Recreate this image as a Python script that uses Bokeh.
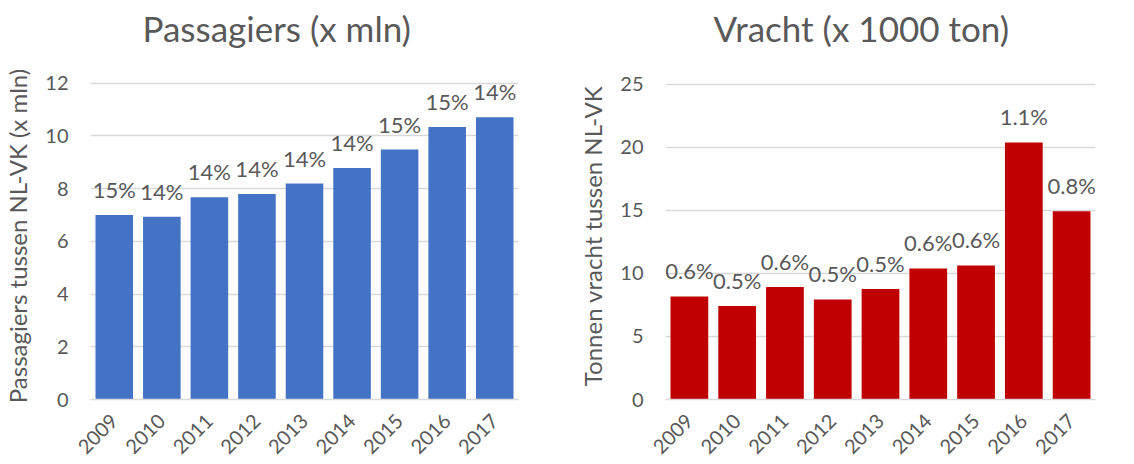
import math
from bokeh.plotting import figure
from bokeh.layouts import row
from bokeh.models import Range1d, FixedTicker, ColumnDataSource, Title
from bokeh.core.properties import value
from bokeh.embed import file_html
from bokeh.resources import INLINE

years = ["2009", "2010", "2011", "2012", "2013", "2014", "2015", "2016", "2017"]
passengers = [7.0, 6.93, 7.67, 7.79, 8.19, 8.78, 9.48, 10.33, 10.70]
passenger_pct = ["15%", "14%", "14%", "14%", "14%", "14%", "15%", "15%", "14%"]
freight = [8.17, 7.42, 8.93, 7.93, 8.77, 10.39, 10.63, 20.38, 14.93]
freight_pct = ["0.6%", "0.5%", "0.6%", "0.5%", "0.5%", "0.6%", "0.6%", "1.1%", "0.8%"]

FONT = "Lato"
TXT = "#595959"
GRID = "#D9D9D9"


def make(title, ylabel, vals, labels, color, yend, ticks, width, bl, br, offset):
    src = ColumnDataSource(dict(x=years, top=vals, lab=labels))
    p = figure(x_range=years, y_range=Range1d(0, yend), width=width, height=464,
               output_backend="svg", toolbar_location=None, title=None,
               min_border_left=bl, min_border_right=br, min_border_top=72,
               min_border_bottom=65, outline_line_color=None)
    p.vbar(x="x", top="top", width=0.79, source=src, fill_color=color,
           line_color=None)
    p.text(x="x", y="top", text="lab", source=src, text_align="center",
           text_baseline="bottom", y_offset=-12, text_color=TXT,
           text_font=value(FONT), text_font_size="22px")
    # spacer between frame and title, then the title itself
    p.add_layout(Title(text=" ", text_font_size="2px", standoff=18), "above")
    p.add_layout(Title(text=title, align="left", offset=offset, standoff=4,
                       text_font=FONT, text_font_size="35px",
                       text_font_style="normal", text_color=TXT), "above")
    p.xgrid.grid_line_color = None
    p.ygrid.grid_line_color = GRID
    p.ygrid.grid_line_width = 1.5
    p.yaxis.ticker = FixedTicker(ticks=ticks)
    p.yaxis.axis_line_color = None
    p.yaxis.major_tick_line_color = None
    p.yaxis.minor_tick_line_color = None
    p.yaxis.major_label_standoff = 16
    p.yaxis.major_label_text_font = FONT
    p.yaxis.major_label_text_font_size = "20px"
    p.yaxis.major_label_text_color = TXT
    p.yaxis.axis_label = ylabel
    p.yaxis.axis_label_standoff = 10
    p.yaxis.axis_label_text_font = FONT
    p.yaxis.axis_label_text_font_size = "24px"
    p.yaxis.axis_label_text_font_style = "normal"
    p.yaxis.axis_label_text_color = TXT
    p.xaxis.axis_line_color = GRID
    p.xaxis.axis_line_width = 1.5
    p.xaxis.major_tick_line_color = None
    p.xaxis.minor_tick_line_color = None
    p.xaxis.major_label_orientation = math.pi / 4
    p.xaxis.major_label_standoff = 12
    p.xaxis.major_label_text_font = FONT
    p.xaxis.major_label_text_font_size = "20px"
    p.xaxis.major_label_text_color = TXT
    return p


p1 = make("Passagiers (x mln)", "Passagiers tussen NL-VK (x mln)", passengers,
          passenger_pct, "#4472C4", 12.4, [0, 2, 4, 6, 8, 10, 12], 568, 86, 50, 52)
p2 = make("Vracht (x 1000 ton)", "Tonnen vracht tussen NL-VK", freight,
          freight_pct, "#C00000", 25.93, [0, 5, 10, 15, 20, 25], 566, 97, 39, 48)

layout = row(p1, p2)
open("out.html", "w").write(file_html(layout, INLINE))
